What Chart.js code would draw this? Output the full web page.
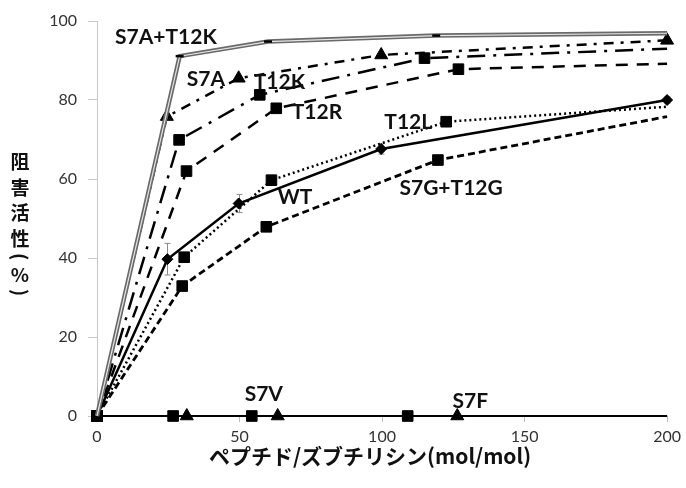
<!DOCTYPE html>
<html>
<head>
<meta charset="utf-8">
<script src="https://cdn.jsdelivr.net/npm/chart.js@4/dist/chart.umd.min.js"></script>
<style>
  html, body { margin: 0; padding: 0; background: #fff; }
</style>
</head>
<body>
<canvas id="c" width="686" height="488"></canvas>
<script>
// 各変異体の測定値 (ペプチド/ズブチリシン比 と 阻害活性%)
var s7at12kX = [0, 29, 60, 119, 200];
var s7at12kY = [0, 91.1, 94.8, 96.3, 96.9];
var s7aX = [0, 24.5, 49.7, 99.7, 200];
var s7aY = [0, 75.8, 85.5, 91.4, 95.1];
var t12kX = [0, 28.8, 57.1, 114.9, 200];
var t12kY = [0, 69.9, 81.3, 90.6, 93];
var t12rX = [0, 31.4, 62.9, 126.8, 200];
var t12rY = [0, 62, 77.9, 87.8, 89.2];
var t12lX = [0, 30.6, 61.2, 122.5, 200];
var t12lY = [0, 40.2, 59.7, 74.5, 78.3];
var wtX = [0, 24.7, 49.7, 99.7, 200];
var wtY = [0, 39.7, 53.8, 67.6, 80];
var wtErr = [0, 4, 2.3, 1.3, 0.8];
var s7gt12gX = [0, 29.9, 59.4, 119.6, 200];
var s7gt12gY = [0, 32.9, 47.9, 64.8, 75.8];
var s7vX = [0, 26.7, 54.3, 109, 200];
var s7vY = [0, 0, 0, 0, 0];
var s7fX = [0, 31.5, 63.4, 126.4, 200];
var s7fY = [0, 0, 0, 0, 0];

// 目盛り
var xTicks = [0, 50, 100, 150, 200];
var yTicks = [0, 20, 40, 60, 80, 100];

// 系列名ラベル(データ座標で配置)
var tagText = ['S7A+T12K', 'S7A', 'T12K', 'T12R', 'T12L', 'WT', 'S7G+T12G', 'S7V', 'S7F'];
var tagX = [6.3, 31.5, 55, 68.3, 100.8, 63.4, 106.1, 51.8, 124.7];
var tagY = [96, 85.3, 84.5, 77, 74.4, 55.4, 57.6, 5.6, 3.8];

var xTitle = 'ペプチド/ズブチリシン(mol/mol)';
var yTitle = ['阻', '害', '活', '性', '(', '%', ')'];

function pts(xs, ys){
    var out = [];
    for(var i = 0; i < xs.length; i++) out.push({x: xs[i], y: ys[i]});
    return out;
}

//線の共通設定
function serie(xs, ys, dash, style, radii, extra){
    var d = {
        data: pts(xs, ys),
        showLine: true,
        borderColor: '#000',
        borderWidth: 2.5,
        borderDash: dash,
        pointStyle: style,
        pointRadius: radii,
        pointBackgroundColor: '#000',
        pointBorderColor: '#000',
        pointBorderWidth: 1,
        tension: 0,
        clip: false
    };
    for(var k in extra) d[k] = extra[k];
    return d;
}

var decor = {
    id: 'decor',
    beforeDatasetsDraw: function(chart){
        //WTの誤差棒
        var ctx = chart.ctx, sx = chart.scales.x, sy = chart.scales.y;
        ctx.save();
        ctx.strokeStyle = '#8a8a8a';
        ctx.lineWidth = 1;
        for(var i = 0; i < wtX.length; i++){
            if(!wtErr[i]) continue;
            var px = Math.round(sx.getPixelForValue(wtX[i])) + 0.5;
            var top = sy.getPixelForValue(wtY[i] + wtErr[i]);
            var bot = sy.getPixelForValue(wtY[i] - wtErr[i]);
            ctx.beginPath();
            ctx.moveTo(px, top); ctx.lineTo(px, bot);
            ctx.moveTo(px - 3, top); ctx.lineTo(px + 3, top);
            ctx.moveTo(px - 3, bot); ctx.lineTo(px + 3, bot);
            ctx.stroke();
        }
        ctx.restore();
    },
    afterDraw: function(chart){
        var ctx = chart.ctx, sx = chart.scales.x, sy = chart.scales.y;
        ctx.save();
        ctx.fillStyle = '#111';
        ctx.font = 'bold 21px Lato';
        ctx.textAlign = 'left';
        ctx.textBaseline = 'middle';
        for(var i = 0; i < tagText.length; i++){
            ctx.fillText(tagText[i], sx.getPixelForValue(tagX[i]), sy.getPixelForValue(tagY[i]));
        }
        //軸タイトル
        ctx.font = 'bold 21px "Noto Sans CJK JP"';
        ctx.textAlign = 'center';
        ctx.fillText(xTitle, 370, 456);
        //縦書き: 括弧は90度回して描く
        ctx.font = 'bold 19px "Noto Sans CJK JP"';
        var y = 162;
        for(var j = 0; j < yTitle.length; j++){
            var ch = yTitle[j];
            if(ch == '(' || ch == ')'){
                ctx.save();
                ctx.translate(20, y);
                ctx.rotate(Math.PI / 2);
                ctx.fillText(ch, 0, 0);
                ctx.restore();
            }else{
                ctx.fillText(ch, 20, y);
            }
            y += (j < 3) ? 25.5 : 18;
        }
        ctx.restore();
    }
};

new Chart(document.getElementById('c'), {
    type: 'scatter',
    data: {
        datasets: [
            serie(s7at12kX, s7at12kY, [], 'line', [0, 4, 4, 4, 0], {borderColor: '#e4e4e4', borderWidth: 1.2, pointBorderWidth: 2.5}),
            serie(s7at12kX, s7at12kY, [], 'circle', 0, {borderColor: '#6a6a6a', borderWidth: 4.5}),
            serie(s7aX, s7aY, [10, 7, 3, 7], 'triangle', [0, 7.5, 7.5, 7.5, 7.5]),
            serie(t12kX, t12kY, [18, 8, 3, 8], 'rect', [7.5, 7.5, 7.5, 7.5, 0]),
            serie(t12rX, t12rY, [12, 9], 'rect', [7.5, 7.5, 7.5, 7.5, 0]),
            serie(t12lX, t12lY, [2, 3], 'rect', [7.5, 7.5, 7.5, 7.5, 0]),
            serie(wtX, wtY, [], 'rectRot', [5.5, 5.5, 5.5, 5.5, 5.5]),
            serie(s7gt12gX, s7gt12gY, [7, 4], 'rect', [7.5, 7.5, 7.5, 7.5, 0], {borderWidth: 2.8}),
            serie(s7vX, s7vY, [], 'rect', [7.5, 7.5, 7.5, 7.5, 0], {borderWidth: 2}),
            serie(s7fX, s7fY, [], 'triangle', [0, 7.5, 7.5, 7.5, 0], {borderWidth: 2})
        ]
    },
    options: {
        responsive: false,
        animation: false,
        devicePixelRatio: 1,
        layout: { padding: { top: 21, right: 18, left: 0, bottom: 0 } },
        plugins: { legend: { display: false }, tooltip: { enabled: false } },
        scales: {
            x: {
                type: 'linear', min: 0, max: 200,
                afterFit: function(s){ s.height = 72; },
                afterBuildTicks: function(s){ s.ticks = xTicks.map(function(v){ return {value: v}; }); },
                grid: { drawOnChartArea: false, drawTicks: true, tickLength: 6, tickColor: '#bdbdbd' },
                border: { color: '#bdbdbd', width: 1 },
                ticks: { color: '#333', padding: 5, font: { family: 'Lato', size: 16 } }
            },
            y: {
                type: 'linear', min: 0, max: 100,
                afterFit: function(s){ s.width = 97; },
                afterBuildTicks: function(s){ s.ticks = yTicks.map(function(v){ return {value: v}; }); },
                grid: { drawOnChartArea: false, drawTicks: true, tickLength: 9, tickColor: '#c8c8c8' },
                border: { color: '#c8c8c8', width: 1 },
                ticks: { color: '#333', padding: 11, font: { family: 'Lato', size: 16 } }
            }
        }
    },
    plugins: [decor]
});
</script>
</body>
</html>
